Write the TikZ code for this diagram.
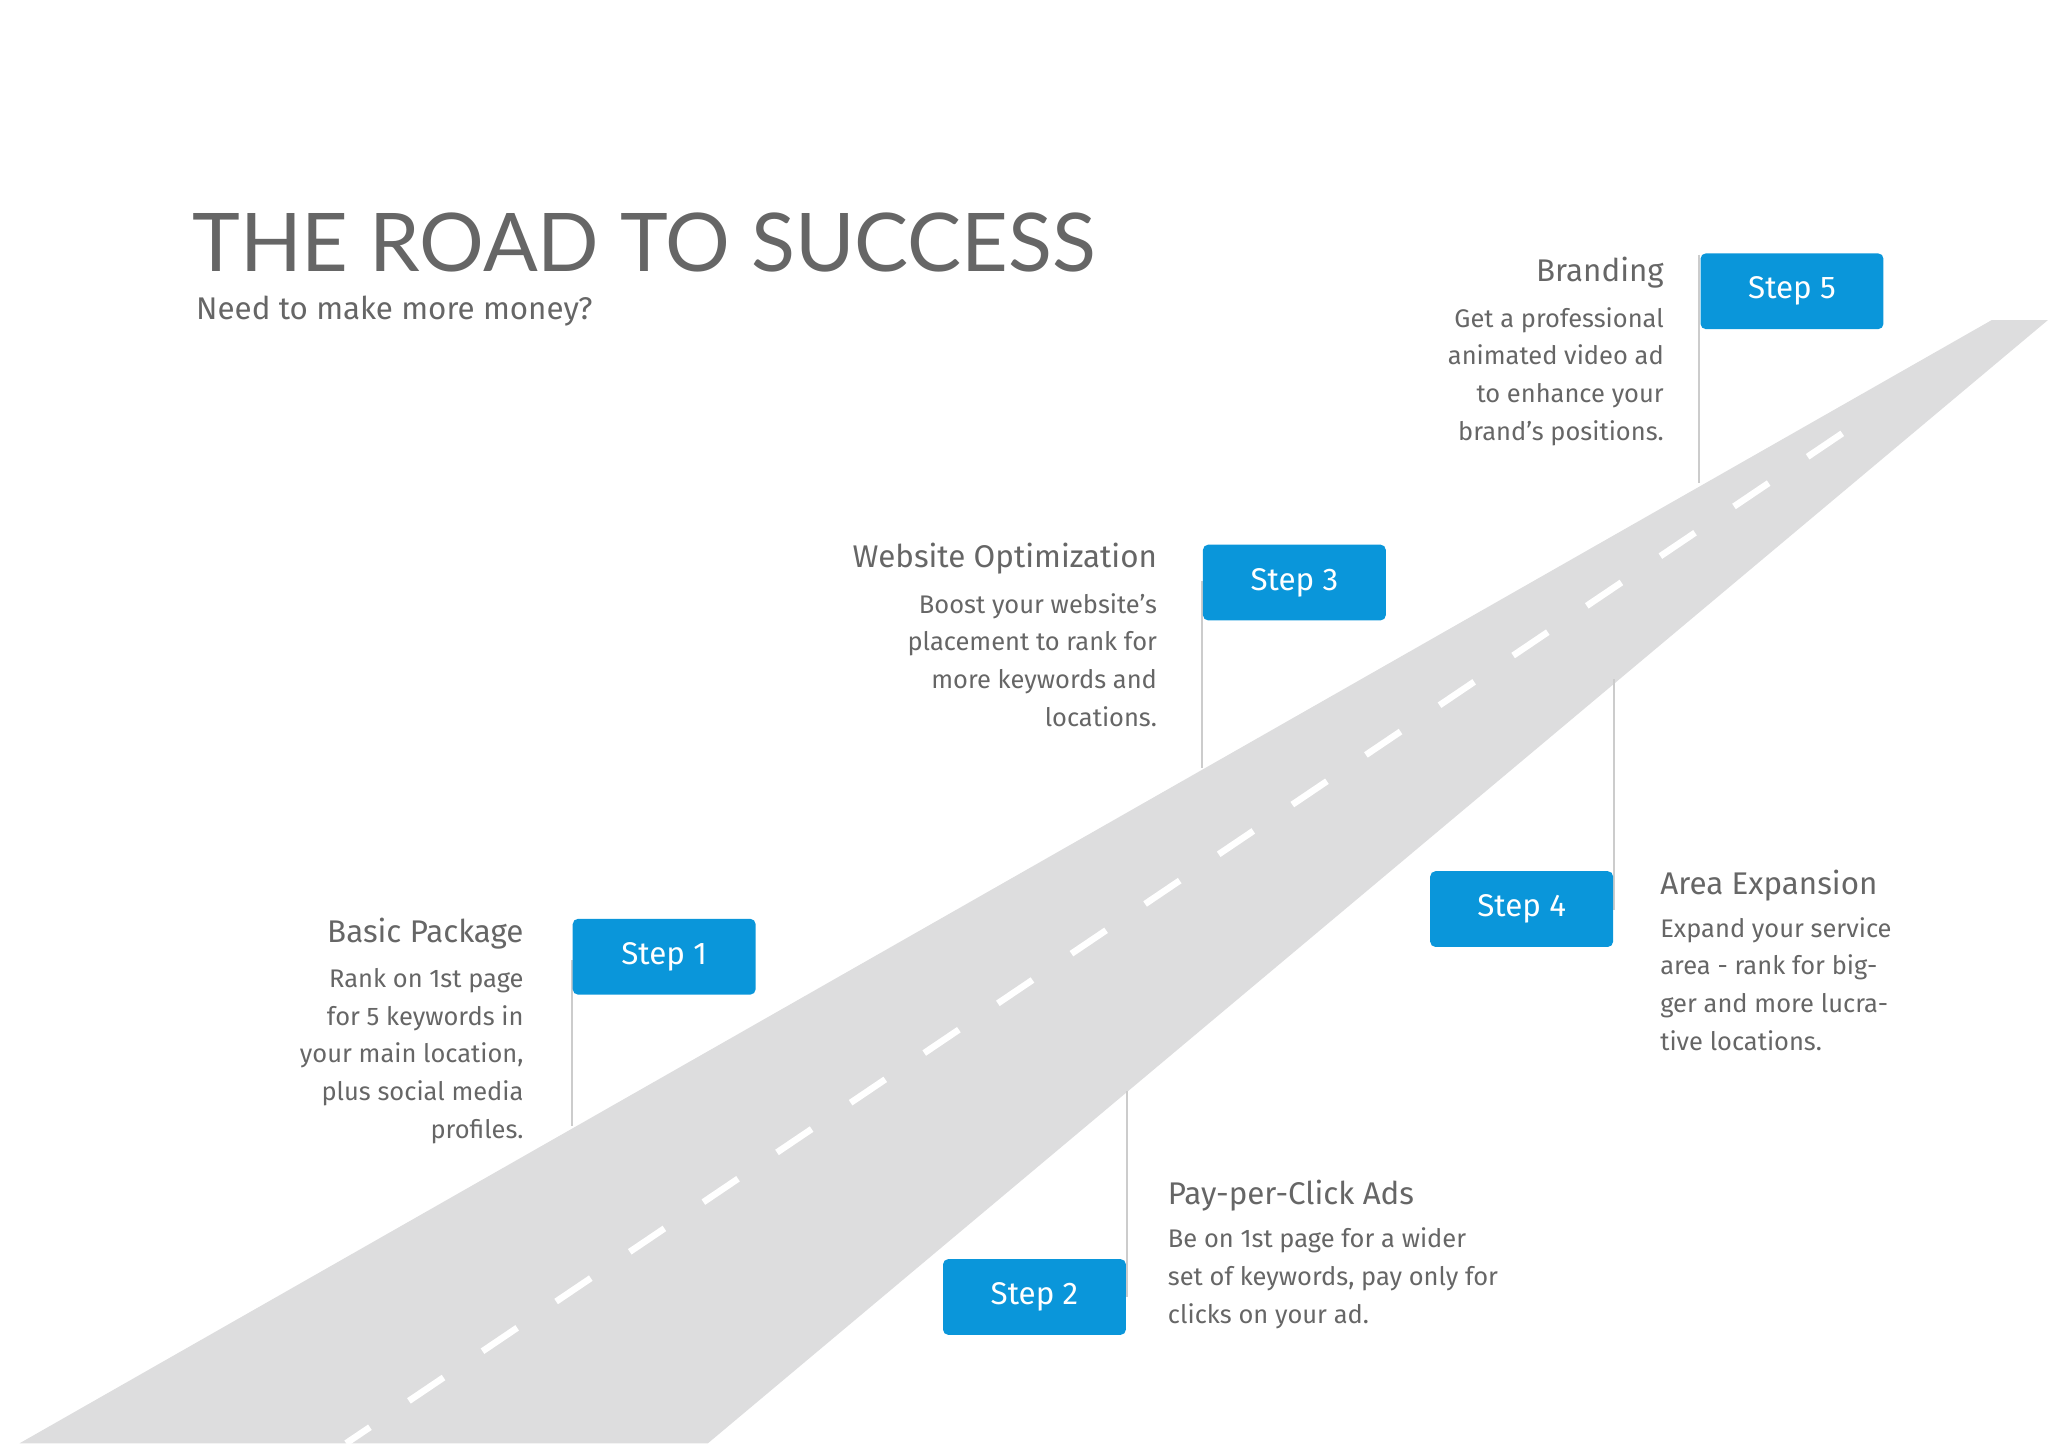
\documentclass[tikz,border=0pt]{standalone}
\usepackage{fontspec}
\setmainfont{Fira Sans}
\newfontfamily\titlefont{Lato}
\definecolor{roadgray}{HTML}{DDDDDE}
\definecolor{stepblue}{HTML}{0A96DA}
\definecolor{txtgray}{HTML}{666666}
\definecolor{linegray}{HTML}{CCCCCC}
\begin{document}
\begin{tikzpicture}[x=1pt,y=-1pt,
  stepbox/.style={fill=stepblue,rounded corners=4pt,minimum width=140pt,minimum height=58pt,text=white,font=\fontsize{24}{28}\selectfont,inner sep=0pt},
  head/.style={text=txtgray,font=\fontsize{24}{28}\selectfont,inner sep=0pt},
  body/.style={text=txtgray,font=\fontsize{19.5}{29}\selectfont,inner sep=0pt},
  pole/.style={draw=linegray,line width=1.5pt}]
\useasboundingbox (0,0) rectangle (1568,1105);
\fill[roadgray] (15,1105) -- (1525,245) -- (1568,245) -- (542,1105) -- cycle;
\coordinate (d0) at (265,1105); \coordinate (d1) at (1425,322);
\draw[white,line width=5pt,dash pattern=on 32pt off 36pt,dash phase=10pt] (d0) -- (d1);
% poles
\coordinate (p1a) at (438,735); \coordinate (p1b) at (438,862);
\coordinate (p2a) at (863,835); \coordinate (p2b) at (863,993);
\coordinate (p3a) at (920,445); \coordinate (p3b) at (920,588);
\coordinate (p4a) at (1236,520); \coordinate (p4b) at (1236,697);
\coordinate (p5a) at (1301,195); \coordinate (p5b) at (1301,370);
\draw[pole] (p1a)--(p1b); \draw[pole] (p2a)--(p2b); \draw[pole] (p3a)--(p3b);
\draw[pole] (p4a)--(p4b); \draw[pole] (p5a)--(p5b);
% boxes
\node[stepbox] (s1) at (508.5,732.5) {Step 1};
\node[stepbox] (s2) at (792,993) {Step 2};
\node[stepbox] (s3) at (991,446) {Step 3};
\node[stepbox] (s4) at (1165,696) {Step 4};
\node[stepbox] (s5) at (1372,223) {Step 5};
% title
\node[anchor=west,text=txtgray,font=\titlefont\fontsize{62}{70}\selectfont,inner sep=0pt] (title) at (147,186) {THE ROAD TO SUCCESS};
\node[anchor=west,text=txtgray,font=\fontsize{24}{28}\selectfont,inner sep=0pt] (sub) at (150,238) {Need to make more money?};
% texts
\node[head,anchor=east] (h1) at (401,715) {Basic Package};
\node[body,anchor=north east,align=right] (b1) at (401,741) {Rank on 1st page\\for 5 keywords in\\your main location,\\plus social media\\profiles.};
\node[head,anchor=west] (h2) at (894,915) {Pay-per-Click Ads};
\node[body,anchor=north west,align=left] (b2) at (894,940) {Be on 1st page for a wider\\set of keywords, pay only for\\clicks on your ad.};
\node[head,anchor=east] (h3) at (886,428) {Website Optimization};
\node[body,anchor=north east,align=right] (b3) at (886,454) {Boost your website’s\\placement to rank for\\more keywords and\\locations.};
\node[head,anchor=west] (h4) at (1271,678) {Area Expansion};
\node[body,anchor=north west,align=left] (b4) at (1271,702) {Expand your service\\area - rank for big-\\ger and more lucra-\\tive locations.};
\node[head,anchor=east] (h5) at (1274,209) {Branding};
\node[body,anchor=north east,align=right] (b5) at (1274,235) {Get a professional\\animated video ad\\to enhance your\\brand’s positions.};
\end{tikzpicture}
\end{document}
